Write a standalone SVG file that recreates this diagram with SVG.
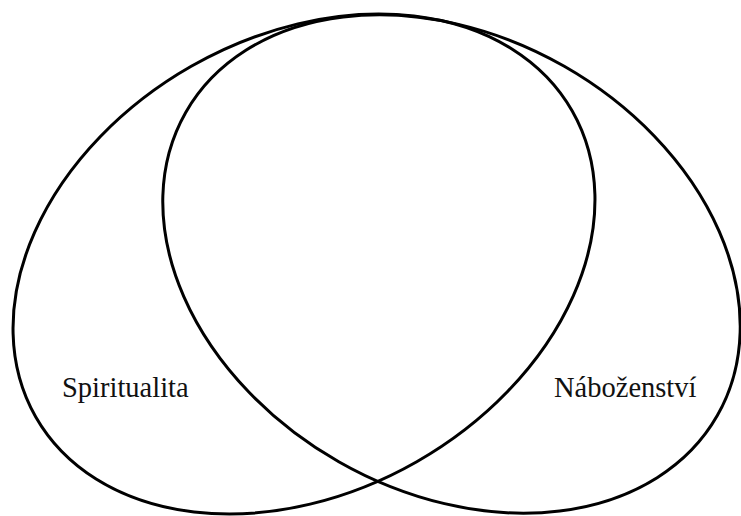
<svg xmlns="http://www.w3.org/2000/svg" width="741" height="516" viewBox="0 0 741 516">
<style>
.set{fill:none;stroke:#000;stroke-width:3}
.lbl{font-family:"Liberation Serif","Times New Roman",serif;font-size:28.5px;fill:#111}
</style>
<rect width="741" height="516" fill="#fff"/>
<g id="spiritualita">
<ellipse class="set" cx="304" cy="264" rx="308.8" ry="227.6" transform="rotate(-29.7 304 264)"/>
<text class="lbl" x="62" y="397">Spiritualita</text>
</g>
<g id="nabozenstvi">
<ellipse class="set" cx="451.5" cy="264" rx="306" ry="227.6" transform="rotate(29.7 451.5 264)"/>
<text class="lbl" x="554" y="397">Náboženství</text>
</g>
</svg>
